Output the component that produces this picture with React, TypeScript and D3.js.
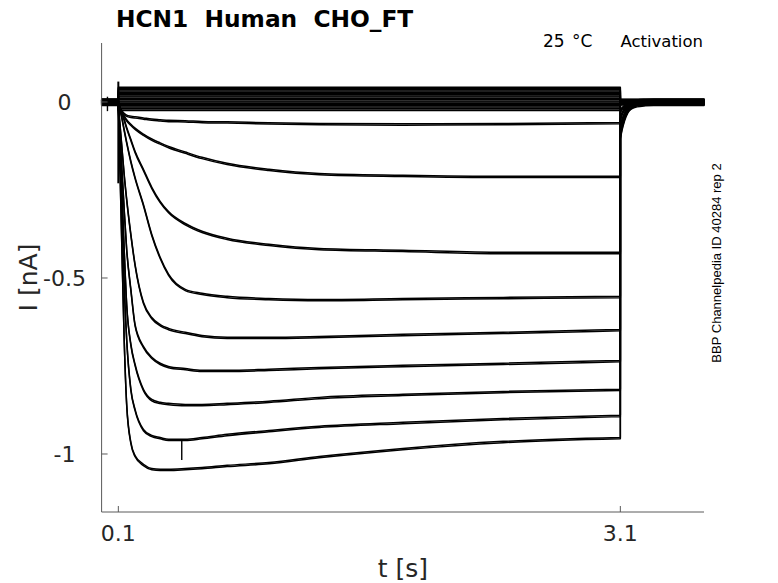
import React from 'react';
import * as d3 from 'd3';

// ---- data ----
const pulseT = [0.1, 0.11, 0.12, 0.135, 0.15, 0.175, 0.2, 0.25, 0.3, 0.35, 0.4, 0.5, 0.6, 0.75, 1.0, 1.3, 1.8, 2.4, 3.1];

const traceA = [-0.006, -0.017, -0.026, -0.034, -0.039, -0.042, -0.044, -0.047, -0.050, -0.052, -0.054, -0.055, -0.057, -0.058, -0.061, -0.063, -0.064, -0.063, -0.060];
const traceB = [-0.006, -0.017, -0.028, -0.041, -0.052, -0.065, -0.076, -0.093, -0.107, -0.118, -0.128, -0.144, -0.159, -0.176, -0.193, -0.205, -0.210, -0.213, -0.213];
const traceC = [-0.006, -0.017, -0.031, -0.051, -0.074, -0.108, -0.142, -0.193, -0.244, -0.284, -0.313, -0.347, -0.369, -0.389, -0.406, -0.418, -0.423, -0.429, -0.429];
const traceD = [-0.006, -0.023, -0.043, -0.080, -0.116, -0.170, -0.216, -0.293, -0.378, -0.443, -0.491, -0.534, -0.545, -0.554, -0.560, -0.563, -0.560, -0.557, -0.554];
const traceE = [-0.009, -0.065, -0.122, -0.207, -0.278, -0.378, -0.463, -0.571, -0.614, -0.634, -0.645, -0.656, -0.665, -0.670, -0.670, -0.668, -0.662, -0.656, -0.648];
const traceF = [-0.009, -0.094, -0.179, -0.307, -0.420, -0.534, -0.634, -0.696, -0.727, -0.744, -0.753, -0.759, -0.764, -0.764, -0.761, -0.756, -0.750, -0.744, -0.736];
const traceG = [-0.009, -0.122, -0.236, -0.420, -0.577, -0.690, -0.747, -0.818, -0.847, -0.855, -0.858, -0.861, -0.861, -0.858, -0.852, -0.841, -0.832, -0.824, -0.818];
const traceH = [-0.009, -0.151, -0.293, -0.520, -0.676, -0.818, -0.875, -0.932, -0.949, -0.955, -0.960, -0.960, -0.955, -0.946, -0.935, -0.923, -0.912, -0.901, -0.892];
const traceI = [-0.009, -0.193, -0.392, -0.676, -0.861, -0.969, -1.006, -1.031, -1.043, -1.045, -1.045, -1.043, -1.040, -1.034, -1.026, -1.009, -0.986, -0.966, -0.955];
const activatingTraces = [traceA, traceB, traceC, traceD, traceE, traceF, traceG, traceH, traceI];

// sweeps that stay near zero (flat during the pulse)
const clusterLevels = [0.040, 0.033, 0.026, 0.019, 0.012, 0.005, -0.002, -0.009, -0.016, -0.022];

// holding current of each sweep (cluster sweeps first, then activating sweeps)
const holdLevels = [0.006, -0.004, 0.003, -0.007, 0.001, -0.002, 0.005, -0.005, 0.0, 0.002, 0.004, -0.006, 0.002, -0.003, 0.007, -0.001, -0.008, 0.003, -0.004];

// tail currents after the pulse
const tailT = [3.1, 3.11, 3.125, 3.145, 3.17, 3.2, 3.25, 3.3, 3.6];
const tailA = [-0.006, -0.004, -0.002, -0.001, 0, 0, 0, 0, 0];
const tailB = [-0.018, -0.012, -0.007, -0.004, -0.002, -0.001, 0, 0, 0];
const tailC = [-0.032, -0.022, -0.014, -0.007, -0.003, -0.001, 0, 0, 0];
const tailD = [-0.045, -0.032, -0.020, -0.011, -0.005, -0.002, 0, 0, 0];
const tailE = [-0.058, -0.041, -0.026, -0.014, -0.006, -0.003, -0.001, 0, 0];
const tailF = [-0.070, -0.050, -0.032, -0.017, -0.008, -0.003, -0.001, 0, 0];
const tailG = [-0.080, -0.058, -0.037, -0.019, -0.009, -0.004, -0.001, 0, 0];
const tailH = [-0.090, -0.066, -0.042, -0.022, -0.010, -0.004, -0.002, 0, 0];
const tailI = [-0.100, -0.075, -0.048, -0.025, -0.011, -0.005, -0.002, 0, 0];
const tails = [tailA, tailB, tailC, tailD, tailE, tailF, tailG, tailH, tailI];

// artifacts: capacitive transient at onset, small glitches
const onsetTransient = { t: 0.1, top: 0.058, bottom: -0.231 };
const baselineGlitch = { t: 0.035, top: 0.015, bottom: -0.026 };
const sweepGlitch = { t: 0.479, top: -0.962, bottom: -1.017 };

const xDomain = [0, 3.6];
const yDomain = [-1.1648, 0.1676];
const xTicks = [0.1, 3.1];
const xTickLabels = ['0.1', '3.1'];
const yTicks = [0, -0.5, -1];
const yTickLabels = ['0', '-0.5', '-1'];

const title = 'HCN1  Human  CHO_FT';
const subtitleParts = ['25 °C', 'Activation'];
const xLabel = 't [s]';
const yLabel = 'I [nA]';
const sideNote = 'BBP Channelpedia ID 40284 rep 2';

// ---- layout ----
const W = 778;
const H = 583;
const left = 101.6;
const right = 704;
const top = 43;
const bottom = 512;

export default function App() {
  const x = d3.scaleLinear().domain(xDomain).range([left, right]);
  const y = d3.scaleLinear().domain(yDomain).range([bottom, top]);

  type P = [number, number];
  const lin = d3.line<P>().x((d) => x(d[0])).y((d) => y(d[1])).curve(d3.curveLinear);
  const smooth = d3.line<P>().x((d) => x(d[0])).y((d) => y(d[1])).curve(d3.curveMonotoneX);

  const paths: string[] = [];

  clusterLevels.forEach((lv, i) => {
    const h = holdLevels[i];
    const pts: P[] = [
      [0, h], [0.1, h], [0.1, lv], [3.1, lv], [3.1, h], [3.6, h],
    ];
    paths.push(lin(pts) || '');
  });

  activatingTraces.forEach((vals, i) => {
    const h = holdLevels[clusterLevels.length + i];
    const tail = tails[i];
    const pre: P[] = [[0, h], [0.1, h], [0.1, vals[0]]];
    const pulse: P[] = pulseT.map((t, k) => [t, vals[k]] as P);
    const jump: P[] = [[3.1, vals[vals.length - 1]], [3.1, h + tail[0]]];
    const tl: P[] = tailT.map((t, k) => [t, h + tail[k]] as P);
    paths.push((lin(pre) || '') + (smooth(pulse) || '') + (lin(jump) || '') + (smooth(tl) || ''));
  });

  const glitches = [onsetTransient, baselineGlitch, sweepGlitch];

  const tickColor = '#262626';
  const axisColor = '#5a5a5a';

  const traceGroup = (dy: number, key: string) => (
    <g key={key} transform={`translate(0,${dy})`} fill="none" stroke="#000" strokeWidth={1.5} strokeLinejoin="round" strokeLinecap="round">
      {paths.map((d, i) => (
        <path key={i} d={d} />
      ))}
    </g>
  );

  return (
    <svg width={W} height={H} style={{ position: 'absolute', left: 0, top: 0, background: '#fff' }} fontFamily="DejaVu Sans">
      <rect x={0} y={0} width={W} height={H} fill="#fff" />
      {traceGroup(-0.65, 'a')}
      {traceGroup(0.65, 'b')}
      {glitches.map((g, i) => (
        <line key={i} x1={x(g.t)} x2={x(g.t)} y1={y(g.top)} y2={y(g.bottom)} stroke="#000" strokeWidth={i === 0 ? 2 : 1.4} />
      ))}

      <line x1={left} x2={left} y1={top} y2={bottom} stroke={axisColor} strokeWidth={1} />
      <line x1={left} x2={right} y1={bottom} y2={bottom} stroke={axisColor} strokeWidth={1} />
      {xTicks.map((t, i) => (
        <g key={`xt${i}`}>
          <line x1={x(t)} x2={x(t)} y1={bottom} y2={bottom - 6} stroke={axisColor} strokeWidth={1} />
          <text x={x(t)} y={bottom + 29} textAnchor="middle" fontSize={22} fill={tickColor}>
            {xTickLabels[i]}
          </text>
        </g>
      ))}
      {yTicks.map((v, i) => (
        <g key={`yt${i}`}>
          <line x1={left} x2={left + 6} y1={y(v)} y2={y(v)} stroke={axisColor} strokeWidth={1} />
          <text x={64.5} y={y(v) + 8} textAnchor="middle" fontSize={22} fill={tickColor}>
            {yTickLabels[i]}
          </text>
        </g>
      ))}

      <text x={(left + right) / 2} y={577} textAnchor="middle" fontSize={25} fill={tickColor}>
        {xLabel}
      </text>
      <text transform={`translate(37,${(top + bottom) / 2}) rotate(-90)`} textAnchor="middle" fontSize={25} fill={tickColor} style={{ whiteSpace: 'pre' }}>
        {yLabel}
      </text>
      <text x={116} y={27} fontSize={23.3} fontWeight="bold" fill="#000" style={{ whiteSpace: 'pre' }}>
        {title}
      </text>
      <text x={543} y={47} fontSize={17} fill="#000" wordSpacing={2} style={{ whiteSpace: 'pre' }}>
        {subtitleParts[0]}
      </text>
      <text x={703} y={47} textAnchor="end" fontSize={16.5} fill="#000">
        {subtitleParts[1]}
      </text>
      <text transform={`translate(721,263) rotate(-90)`} textAnchor="middle" fontSize={13} fontFamily="Liberation Sans" fill="#000">
        {sideNote}
      </text>
    </svg>
  );
}
